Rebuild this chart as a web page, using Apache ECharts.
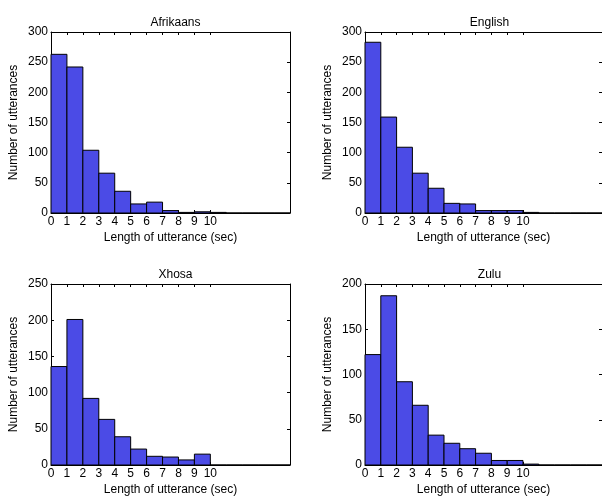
<!DOCTYPE html>
<html>
<head>
<meta charset="utf-8">
<script src="https://cdn.jsdelivr.net/npm/echarts@6/dist/echarts.min.js"></script>
<style>
  html, body { margin: 0; padding: 0; background: #fff; }
  #chart { width: 602px; height: 497px; }
</style>
</head>
<body>
<div id="chart"></div>
<script>
// histogram counts per 1-second bin, bins 0-1 ... 14-15
const languages = ['Afrikaans', 'English', 'Xhosa', 'Zulu'];
const afrikaans = [263, 242, 104, 66, 36, 15, 18, 4, 1, 2, 1, 0, 0, 0, 0];
const english   = [283, 159, 109, 66, 41, 16, 15, 4, 4, 4, 1, 0, 0, 0, 0];
const xhosa     = [136, 201, 92, 63, 39, 22, 12, 11, 7, 15, 0, 0, 0, 0, 0];
const zulu      = [122, 187, 92, 66, 33, 24, 18, 13, 5, 5, 1, 0, 0, 0, 0];
const counts = [afrikaans, english, xhosa, zulu];
const yMax = [300, 300, 250, 200];
const xTicks = [0, 1, 2, 3, 4, 5, 6, 7, 8, 9, 10];

const font = "'Liberation Sans', Arial, sans-serif";
const grids = [
  { left: 51, top: 32, width: 239, height: 181 },
  { left: 365, top: 32, width: 239, height: 181 },
  { left: 51, top: 284, width: 239, height: 183 },
  { left: 365, top: 284, width: 239, height: 183 }
];

const myChart = echarts.init(document.getElementById('chart'));

let xAxis = [], yAxis = [], series = [], title = [];
grids.forEach((g, i) => {
  title.push({
    text: languages[i],
    left: g.left + g.width / 2,
    top: g.top - 20,
    textAlign: 'center',
    textStyle: { fontFamily: font, fontSize: 12, fontWeight: 'normal', color: '#000' }
  });
  // bottom axis with labels
  xAxis.push({
    type: 'value', gridIndex: i, min: 0, max: 15, interval: 1,
    name: 'Length of utterance (sec)', nameLocation: 'middle', nameGap: 19,
    nameTextStyle: { fontFamily: font, fontSize: 12, color: '#000' },
    axisLine: { onZero: false, lineStyle: { color: '#000', width: 1 } },
    axisTick: { inside: true, length: 3, customValues: xTicks, lineStyle: { color: '#000' } },
    axisLabel: { customValues: xTicks, margin: 3, fontFamily: font, fontSize: 12, color: '#000' },
    splitLine: { show: false }
  });
  // top box edge
  xAxis.push({
    type: 'value', gridIndex: i, position: 'top', min: 0, max: 15, interval: 1,
    axisLine: { onZero: false, lineStyle: { color: '#000', width: 1 } },
    axisTick: { inside: true, length: 3, customValues: xTicks, lineStyle: { color: '#000' } },
    axisLabel: { show: false },
    splitLine: { show: false }
  });
  yAxis.push({
    type: 'value', gridIndex: i, min: 0, max: yMax[i], interval: 50,
    name: 'Number of utterances', nameLocation: 'middle', nameGap: 31,
    nameTextStyle: { fontFamily: font, fontSize: 12, color: '#000' },
    axisLine: { show: true, onZero: false, lineStyle: { color: '#000', width: 1 } },
    axisTick: { show: true, inside: true, length: 3, lineStyle: { color: '#000' } },
    axisLabel: { margin: 3, fontFamily: font, fontSize: 12, color: '#000' },
    splitLine: { show: false }
  });
  // right box edge
  yAxis.push({
    type: 'value', gridIndex: i, position: 'right', min: 0, max: yMax[i], interval: 50,
    axisLine: { show: true, onZero: false, lineStyle: { color: '#000', width: 1 } },
    axisTick: { show: true, inside: true, length: 3, lineStyle: { color: '#000' } },
    axisLabel: { show: false },
    splitLine: { show: false }
  });
  series.push({
    type: 'custom',
    xAxisIndex: i * 2,
    yAxisIndex: i * 2,
    data: counts[i].map((v, k) => [k, v]),
    encode: { x: 0, y: 1 },
    renderItem: function (params, api) {
      const x0 = api.value(0);
      const h = api.value(1);
      const p0 = api.coord([x0, h]);
      const p1 = api.coord([x0 + 1, 0]);
      return {
        type: 'rect',
        shape: { x: p0[0], y: p0[1], width: p1[0] - p0[0], height: p1[1] - p0[1] },
        style: { fill: '#4b4be6', stroke: '#000', lineWidth: 1 }
      };
    }
  });
});

myChart.setOption({
  backgroundColor: '#fff',
  animation: false,
  title: title,
  grid: grids,
  xAxis: xAxis,
  yAxis: yAxis,
  series: series
});
</script>
</body>
</html>
